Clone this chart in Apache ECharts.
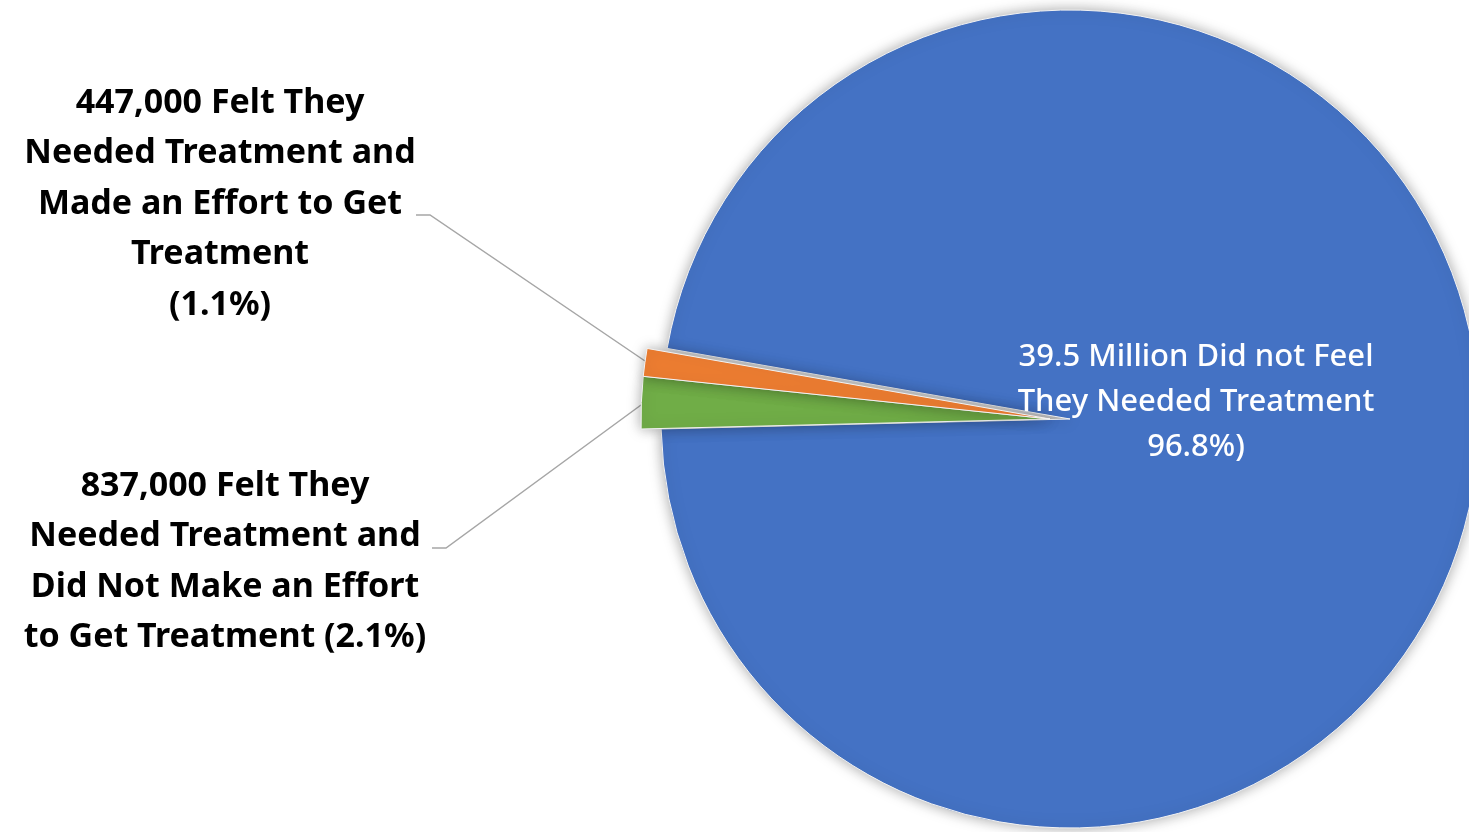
<!DOCTYPE html>
<html>
<head>
<meta charset="utf-8">
<script src="https://cdn.jsdelivr.net/npm/echarts@6/dist/echarts.min.js"></script>
<style>
  html, body { margin: 0; padding: 0; background: #fff; }
  #PieChart { width: 1469px; height: 832px; }
</style>
</head>
<body>
<div id="PieChart"></div>
<script>
// slices in clockwise order, starting just below 9 o'clock
const categories = [
  'Felt They Needed Treatment and Did Not Make an Effort to Get Treatment',
  'Felt They Needed Treatment and Made an Effort to Get Treatment',
  'Did not Feel They Needed Treatment'
];
const values = [837000, 447000, 39500000];
const colors = ['#70AD47', '#ED7D31', '#4472C4'];
const labelTexts = [
  '837,000 Felt They\nNeeded Treatment and\nDid Not Make an Effort\nto Get Treatment (2.1%)',
  '447,000 Felt They\nNeeded Treatment and\nMade an Effort to Get\nTreatment\n(1.1%)',
  '39.5 Million Did not Feel\nThey Needed Treatment\n96.8%)'
];
const exploded = [true, true, false];

let myChart = echarts.init(document.getElementById('PieChart'));

// one pie for the big slice, one pulled 20px to the left for the small ones
function pieSeries(pulled) {
  return {
    type: 'pie',
    center: pulled ? [1050, 419] : [1070, 419],
    radius: [0, 409],
    startAngle: 181.4,
    clockwise: true,
    silent: true,
    avoidLabelOverlap: false,
    itemStyle: {
      borderColor: '#f2f2f2',
      borderWidth: 1,
      shadowBlur: 14,
      shadowColor: 'rgba(0,0,0,0.35)'
    },
    labelLine: {
      show: true,
      lineStyle: { color: '#A6A6A6', width: 1.5 }
    },
    labelLayout: function (params) {
      if (params.dataIndex === 0) {
        return {
          x: 225, y: 562, align: 'center', verticalAlign: 'middle',
          labelLinePoints: [[641, 405], [446, 548], [432, 548]]
        };
      }
      if (params.dataIndex === 1) {
        return {
          x: 220, y: 204, align: 'center', verticalAlign: 'middle',
          labelLinePoints: [[645, 361], [430, 215], [416, 215]]
        };
      }
      return { x: 1196, y: 402, align: 'center', verticalAlign: 'middle' };
    },
    data: values.map((v, i) => {
      const mine = exploded[i] === pulled;
      const item = {
        value: v,
        name: categories[i],
        itemStyle: mine
          ? { color: colors[i] }
          : { color: 'rgba(0,0,0,0)', borderWidth: 0, shadowBlur: 0 },
        label: { show: mine, formatter: labelTexts[i] },
        labelLine: { show: mine && pulled }
      };
      if (pulled) {
        Object.assign(item.label, {
          position: 'outside',
          fontFamily: 'Noto Sans',
          fontWeight: 'bold',
          fontSize: 34,
          lineHeight: 50.5,
          color: '#000',
          align: 'center'
        });
      } else {
        Object.assign(item.label, {
          position: 'inside',
          fontFamily: 'Noto Sans',
          fontWeight: 500,
          fontSize: 31,
          lineHeight: 45,
          color: '#fff',
          align: 'center'
        });
      }
      return item;
    })
  };
}

const option = {
  animation: false,
  series: [pieSeries(false), pieSeries(true)]
};

myChart.setOption(option);
</script>
</body>
</html>
